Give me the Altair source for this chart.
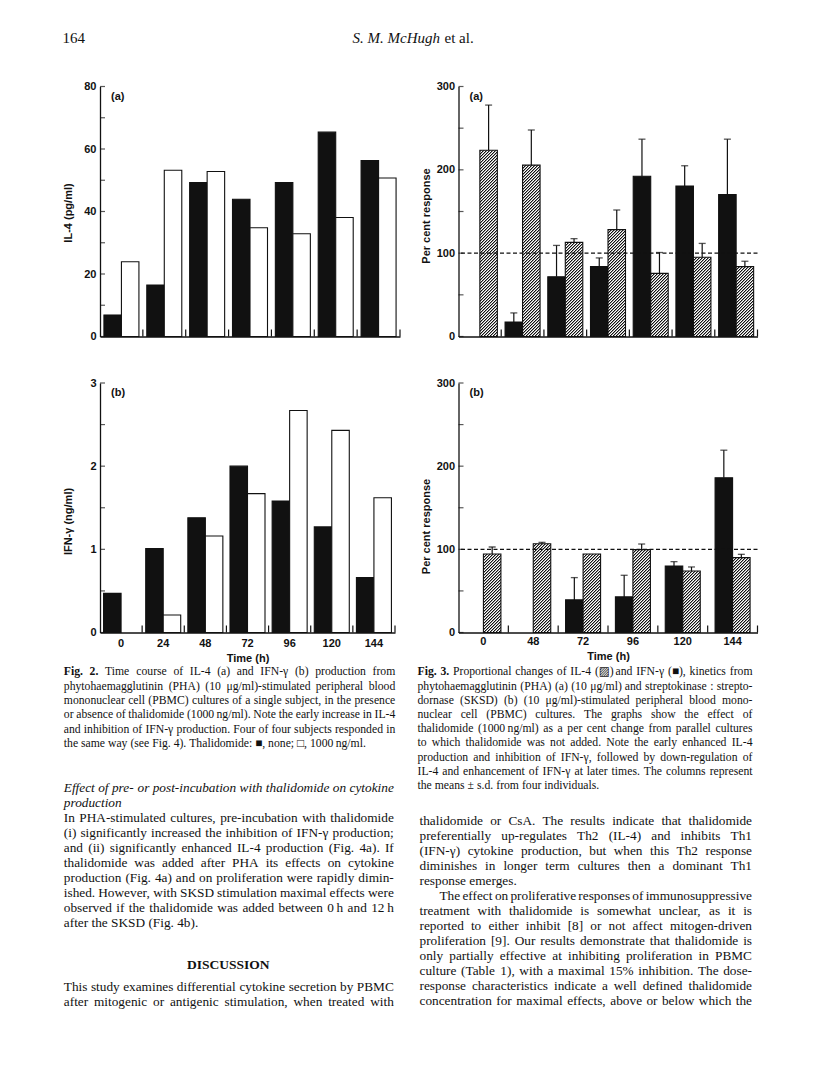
import altair as alt

# ------------------------------------------------------------------ data
# Fig. 2 (single subject, PHA)
times2 = [0, 24, 48, 72, 96, 120, 144]
il4_none = [6.9, 16.5, 49.3, 43.9, 49.3, 65.4, 56.3]        # pg/ml, thalidomide none
il4_thal = [23.9, 53.2, 52.8, 34.8, 32.9, 38.1, 50.7]       # pg/ml, thalidomide 1000 ng/ml
ifn_none = [0.47, 1.01, 1.38, 2.00, 1.58, 1.27, 0.66]       # ng/ml
ifn_thal = [None, 0.21, 1.16, 1.67, 2.67, 2.43, 1.62]       # ng/ml

# Fig. 3 (a) PHA, per cent response, mean and s.d.
times3a = [0, 24, 48, 72, 96, 120, 144]
ifn_pct_a = [None, 17.4, 71.7, 83.8, 192.3, 180.6, 170.4]
ifn_sd_a = [None, 10.9, 37.6, 10.5, 44.5, 24.3, 66.4]
il4_pct_a = [223.5, 205.7, 113.0, 128.3, 75.7, 95.1, 83.8]
il4_sd_a = [54.2, 42.1, 4.4, 23.5, 25.1, 16.6, 6.5]

# Fig. 3 (b) SKSD
times3b = [0, 48, 72, 96, 120, 144]
ifn_pct_b = [None, None, 39.2, 42.8, 80.0, 186.0]
ifn_sd_b = [None, None, 26.8, 26.0, 5.2, 33.2]
il4_pct_b = [94.4, 106.8, 94.4, 99.6, 74.0, 90.0]
il4_sd_b = [8.4, 1.6, 0.0, 6.8, 4.8, 4.0]

reference_pct = [100]

il4_ticks = [0, 10, 20, 30, 40, 50, 60, 70, 80]
il4_labels = [0, 20, 40, 60, 80]
ifn_ticks = [0, 0.5, 1, 1.5, 2, 2.5, 3]
ifn_labels = [0, 1, 2, 3]
pct_ticks = [0, 50, 100, 150, 200, 250, 300]
pct_labels = [0, 100, 200, 300]

# ------------------------------------------------------------------ text
header_left = ["164"]
header_auth = ["S. M. McHugh"]
header_etal = ["et al."]

cap2 = [
    "Fig. 2. Time course of IL-4 (a) and IFN-\u03b3 (b) production from",
    "phytohaemagglutinin (PHA) (10 \u03bcg/ml)-stimulated peripheral blood",
    "mononuclear cell (PBMC) cultures of a single subject, in the presence",
    "or absence of thalidomide (1000\u2009ng/ml). Note the early increase in IL-4",
    "and inhibition of IFN-\u03b3 production. Four of four subjects responded in",
    "the same way (see Fig. 4). Thalidomide: \u25a0, none; \u25a1, 1000\u2009ng/ml.",
]
cap3 = [
    "Fig. 3. Proportional changes of IL-4 (\u25a8) and IFN-\u03b3 (\u25a0), kinetics from",
    "phytohaemagglutinin (PHA) (a) (10 \u03bcg/ml) and streptokinase : strepto-",
    "dornase (SKSD) (b) (10 \u03bcg/ml)-stimulated peripheral blood mono-",
    "nuclear cell (PBMC) cultures. The graphs show the effect of",
    "thalidomide (1000\u2009ng/ml) as a per cent change from parallel cultures",
    "to which thalidomide was not added. Note the early enhanced IL-4",
    "production and inhibition of IFN-\u03b3, followed by down-regulation of",
    "IL-4 and enhancement of IFN-\u03b3 at later times. The columns represent",
    "the means \u00b1 s.d. from four individuals.",
]
left_heading = [
    "Effect of pre- or post-incubation with thalidomide on cytokine",
    "production",
]
left_para = [
    "In PHA-stimulated cultures, pre-incubation with thalidomide",
    "(i) significantly increased the inhibition of IFN-\u03b3 production;",
    "and (ii) significantly enhanced IL-4 production (Fig. 4a). If",
    "thalidomide was added after PHA its effects on cytokine",
    "production (Fig. 4a) and on proliferation were rapidly dimin-",
    "ished. However, with SKSD stimulation maximal effects were",
    "observed if the thalidomide was added between 0\u2009h and 12\u2009h",
    "after the SKSD (Fig. 4b).",
]
discussion = ["DISCUSSION"]
left_para2 = [
    "This study examines differential cytokine secretion by PBMC",
    "after mitogenic or antigenic stimulation, when treated with",
]
right_para1 = [
    "thalidomide or CsA. The results indicate that thalidomide",
    "preferentially up-regulates Th2 (IL-4) and inhibits Th1",
    "(IFN-\u03b3) cytokine production, but when this Th2 response",
    "diminishes in longer term cultures then a dominant Th1",
    "response emerges.",
]
right_para2 = [
    "The effect on proliferative responses of immunosuppressive",
    "treatment with thalidomide is somewhat unclear, as it is",
    "reported to either inhibit [8] or not affect mitogen-driven",
    "proliferation [9]. Our results demonstrate that thalidomide is",
    "only partially effective at inhibiting proliferation in PBMC",
    "culture (Table 1), with a maximal 15% inhibition. The dose-",
    "response characteristics indicate a well defined thalidomide",
    "concentration for maximal effects, above or below which the",
]

# ------------------------------------------------------------------ style
INK = "#111111"
SANS = "Liberation Sans, Arial, Helvetica, sans-serif"
SERIF = "Liberation Serif, Times New Roman, DejaVu Serif, serif"
BAR_W = 17.5

# approximate advance widths (1/1000 em) of the Times-metric serif font
_REG = {" ": 250, "!": 333, "%": 833, "(": 333, ")": 333, ",": 250, "-": 333,
        ".": 250, "/": 278, ":": 278, ";": 278, "[": 333, "]": 333,
        "A": 722, "B": 667, "C": 667, "D": 722, "E": 611, "F": 556, "G": 722,
        "H": 722, "I": 333, "J": 389, "K": 722, "L": 611, "M": 889, "N": 722,
        "O": 722, "P": 556, "Q": 722, "R": 667, "S": 556, "T": 611, "U": 722,
        "V": 722, "W": 944, "X": 722, "Y": 722, "Z": 611,
        "a": 444, "b": 500, "c": 444, "d": 500, "e": 444, "f": 333, "g": 500,
        "h": 500, "i": 278, "j": 278, "k": 500, "l": 278, "m": 778, "n": 500,
        "o": 500, "p": 500, "q": 500, "r": 333, "s": 389, "t": 278, "u": 500,
        "v": 500, "w": 722, "x": 500, "y": 500, "z": 444,
        "\u03b3": 450, "\u03bc": 500, "\u00b1": 564, "\u25a0": 604,
        "\u25a1": 604, "\u25a8": 770, "\u2009": 200}
_ITA = dict(_REG, **{"a": 500, "f": 278, "k": 444, "m": 722, "r": 389,
                     "v": 444, "w": 667, "y": 444, "z": 389, "E": 611})
_BOLD = dict(_REG, **{"F": 611, "g": 500, "i": 278})


def text_width(word, style, size):
    table = _ITA if style == "italic" else _BOLD if style == "bold" else _REG
    return sum(table.get(c, 500) for c in word) * size / 1000.0


def justified(lines, x0, width, size, style="normal", bold_prefix=0,
              indent=0, last_justified=False):
    recs = []
    for r, line in enumerate(lines):
        words = line.split(" ")
        styles = [style] * len(words)
        if r == 0:
            for k in range(bold_prefix):
                styles[k] = "bold"
        ws = [text_width(w, s, size) for w, s in zip(words, styles)]
        lx = x0 + (indent if r == 0 else 0)
        lw = width - (indent if r == 0 else 0)
        just = len(words) > 1 and (r < len(lines) - 1 or last_justified)
        gap = (lw - sum(ws)) / (len(words) - 1) if just else text_width(" ", style, size)
        x = lx
        for k, (w, s, wd) in enumerate(zip(words, styles, ws)):
            if just and k == len(words) - 1:
                recs.append({"row": r, "px": round(lx + lw, 2), "w": w, "st": s, "al": "right"})
            else:
                recs.append({"row": r, "px": round(x, 2), "w": w, "st": s, "al": "left"})
            x += wd + gap
    return recs


def text_layers(recs, y0, step, size):
    out = []
    for st in ("normal", "italic", "bold"):
        for al in ("left", "right"):
            sub = [r for r in recs if r["st"] == st and r["al"] == al]
            if not sub:
                continue
            out.append(alt.Chart(alt.Data(values=sub)).mark_text(
                align=al, baseline="middle", font=SERIF, fontSize=size,
                fontStyle="italic" if st == "italic" else "normal",
                fontWeight="bold" if st == "bold" else "normal",
                color=INK).encode(
                x=alt.X("px:Q", scale=None),
                y=alt.Y("row:Q", scale=alt.Scale(domain=[0, 1], range=[y0, y0 + step]),
                        axis=None),
                text="w:N"))
    return out


def hatch(value, ymax, plot_h):
    """Diagonal '/' hatching as a striped linear gradient in the bar's box.
    Each 3 px period = 1 px ink, 1 px grey edge, 1 px paper, so every bar
    samples the same density."""
    bands = [(1.0, INK), (1.0, "#9a9a9a"), (1.0, "#ffffff")]
    w = BAR_W
    h = max(value / ymax * plot_h, 1.0)
    a = (w + h) * w / (w * w + h * h)
    L = w + h
    stops = []
    s = 0.0
    while s < L:
        for bw, col in bands:
            o0 = round(min(s / L, 1.0), 6)
            o1 = round(min((s + bw) / L, 1.0), 6)
            stops += [{"offset": o0, "color": col}, {"offset": o1, "color": col}]
            s += bw
    return {"gradient": "linear", "x1": 0, "y1": 0, "x2": a, "y2": a * h / w,
            "stops": stops}


def panel(times, series, ymax, ticks, labels, ytitle, title_y, letter,
          width, height, show_x=False, xlab_pad=4, xtitle_y=19, ref=None):
    """series: list of (values, sds, paint, side); side -1 = left bar, +1 = right bar."""
    xscale = alt.Scale(domain=times, paddingInner=0, paddingOuter=0)
    common_x = dict(domain=True, domainColor=INK, domainWidth=1.3,
                    ticks=False, grid=False, labelAngle=0)
    if show_x:
        xaxis = alt.Axis(title="Time (h)", labels=True, labelFont=SANS,
                         labelFontSize=11, labelFontWeight="bold",
                         labelColor=INK, labelPadding=xlab_pad,
                         titleFont=SANS, titleFontSize=11,
                         titleFontWeight="bold", titleColor=INK,
                         titleY=xtitle_y, **common_x)
    else:
        xaxis = alt.Axis(title=None, labels=False, **common_x)
    yscale = alt.Scale(domain=[0, ymax], nice=False, zero=True)
    yaxis = alt.Axis(values=labels, ticks=False, grid=False, domain=True,
                     domainColor=INK, domainWidth=1.3, labelFont=SANS,
                     labelFontSize=11, labelFontWeight="bold", labelColor=INK,
                     labelPadding=4, title=ytitle, titleFont=SANS,
                     titleFontSize=11, titleFontWeight="bold",
                     titleColor=INK, titleX=-27, titleY=title_y)

    def X(**kw):
        return alt.X("t:O", scale=xscale, axis=xaxis, **kw)

    def Y(field):
        return alt.Y(field, scale=yscale, axis=yaxis, stack=None)

    layers = []
    for vals, sds, paint, side in series:
        shift = side * BAR_W / 2
        recs, errs = [], []
        for t, v, sd in zip(times, vals, sds or [None] * len(times)):
            if v is None:
                continue
            r = {"t": t, "v": v}
            if paint == "hatch":
                r["paint"] = hatch(v, ymax, height)
            recs.append(r)
            if sd:
                errs.append({"t": t, "v": v, "hi": v + sd})
        if paint == "hatch":
            bar = alt.Chart(alt.Data(values=recs)).mark_bar(
                width=BAR_W, xOffset=shift, stroke=INK, strokeWidth=1.1).encode(
                x=X(), y=Y("v:Q"),
                fill=alt.Fill("paint:N", scale=None, legend=None))
        else:
            bar = alt.Chart(alt.Data(values=recs)).mark_bar(
                width=BAR_W, xOffset=shift, fill=paint, stroke=INK,
                strokeWidth=1.1).encode(x=X(), y=Y("v:Q"))
        layers.append(bar)
        if errs:
            layers.append(alt.Chart(alt.Data(values=errs)).mark_rule(
                xOffset=shift, color=INK, strokeWidth=1.2).encode(
                x=X(), y=Y("v:Q"), y2="hi:Q"))
            layers.append(alt.Chart(alt.Data(values=errs)).mark_tick(
                orient="horizontal", xOffset=shift, size=7, thickness=1.3,
                color=INK).encode(x=X(), y=Y("hi:Q")))

    ytick = alt.Chart(alt.Data(values=[{"v": v} for v in ticks])).mark_tick(
        orient="horizontal", size=5, thickness=1.2, color=INK).encode(
        y=Y("v:Q"), x=alt.value(2.5))
    xtick = alt.Chart(alt.Data(values=[{"t": t} for t in times])).mark_rule(
        color=INK, strokeWidth=1.2).encode(
        x=X(bandPosition=1), y=alt.value(height - 7), y2=alt.value(height))
    lab = alt.Chart(alt.Data(values=[{"lab": letter}])).mark_text(
        align="left", baseline="middle", font=SANS, fontSize=11,
        fontWeight="bold", color=INK).encode(
        x=alt.value(11), y=alt.value(10), text="lab:N")
    layers += [ytick, xtick, lab]
    if ref is not None:
        layers.append(alt.Chart(alt.Data(values=[{"v": v} for v in ref])).mark_rule(
            color=INK, strokeWidth=1.2, strokeDash=[4, 2.5]).encode(y=Y("v:Q")))
    return alt.layer(*layers).properties(width=width, height=height)


p2a = panel(times2, [(il4_none, None, INK, -1), (il4_thal, None, "#ffffff", 1)],
            80, il4_ticks, il4_labels, "IL-4 (pg/ml)", 126, "(a)", 300, 250)
p2b = panel(times2, [(ifn_none, None, INK, -1), (ifn_thal, None, "#ffffff", 1)],
            3, ifn_ticks, ifn_labels, "IFN-\u03b3 (ng/ml)", 138, "(b)", 295, 249.5,
            show_x=True, xlab_pad=5, xtitle_y=19.5)
p3a = panel(times3a, [(ifn_pct_a, ifn_sd_a, INK, -1), (il4_pct_a, il4_sd_a, "hatch", 1)],
            300, pct_ticks, pct_labels, "Per cent response", 129, "(a)", 299, 250,
            ref=reference_pct)
p3b = panel(times3b, [(ifn_pct_b, ifn_sd_b, INK, -1), (il4_pct_b, il4_sd_b, "hatch", 1)],
            300, pct_ticks, pct_labels, "Per cent response", 143, "(b)", 299, 249.5,
            show_x=True, xlab_pad=3, xtitle_y=18, ref=reference_pct)


def block(lines, x, y0, size=13.3, style="normal", weight="normal", align="left"):
    data = alt.Data(values=[{"row": i, "txt": s} for i, s in enumerate(lines)])
    return alt.Chart(data).mark_text(
        align=align, baseline="middle", font=SERIF, fontSize=size,
        fontStyle=style, fontWeight=weight, color=INK).encode(
        x=alt.value(x),
        y=alt.Y("row:Q", scale=alt.Scale(domain=[0, 1], range=[y0, y0 + 15]),
                axis=None),
        text="txt:N")


CAP = 11.7
BODY = 13.3
# text positions are relative to the text panel (below the lower-left plot)
text_parts = [
    block(header_left, -37.5, -641.5, size=15),
    block(header_auth, 252.5, -641.5, size=15, style="italic"),
    block(header_etal, 344.5, -641.5, size=15),
    block(discussion, 128.3, 285.5, size=13.5, weight="bold", align="center"),
]
text_parts += text_layers(justified(cap2, -36.2, 331.5, CAP, bold_prefix=2), -8.2, 14.3, CAP)
text_parts += text_layers(justified(cap3, 317.5, 335.0, CAP, bold_prefix=2), -8.2, 14.2, CAP)
text_parts += text_layers(justified(left_heading, -36.2, 330.0, BODY, style="italic"), 108.5, 14.97, BODY)
text_parts += text_layers(justified(left_para, -36.2, 330.0, BODY), 138.4, 14.97, BODY)
text_parts += text_layers(justified(left_para2, -36.2, 330.0, BODY, last_justified=True), 307.2, 15.0, BODY)
text_parts += text_layers(justified(right_para1, 319.5, 332.5, BODY), 141.5, 15.0, BODY)
text_parts += text_layers(justified(right_para2, 319.5, 332.5, BODY, indent=20,
                                    last_justified=True), 216.5, 15.0, BODY)

text = alt.layer(*text_parts).resolve_scale(y="independent").properties(width=300, height=330)

chart = alt.concat(
    p2a, p3a, p2b, p3b, text,
    columns=2, spacing={"row": 46.5, "column": 58.5},
    bounds="flush", align="none",
).properties(
    padding={"left": 54, "top": 22.5, "right": 6, "bottom": 6},
    background="white",
).configure_view(strokeOpacity=0)

chart.save("out.html", embed_options={"renderer": "svg", "actions": False})
